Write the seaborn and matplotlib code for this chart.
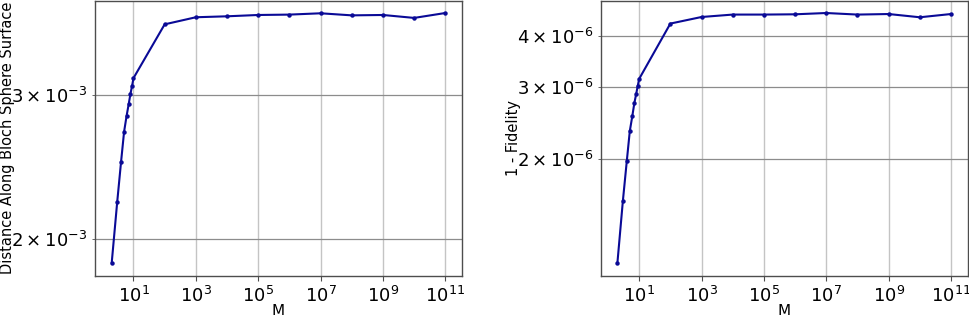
import matplotlib
matplotlib.use("Agg")
import matplotlib.pyplot as plt
import numpy as np
import pandas as pd
import seaborn as sns
from matplotlib.ticker import NullLocator

# M values: 2..10, then every decade up to 1e11
m_values = [2, 3, 4, 5, 6, 7, 8, 9, 10] + [10.0 ** k for k in range(2, 12)]

distance = [
    1.869e-3, 2.219e-3, 2.488e-3, 2.708e-3, 2.830e-3, 2.925e-3, 3.014e-3,
    3.080e-3, 3.150e-3, 3.666e-3, 3.740e-3, 3.750e-3, 3.764e-3, 3.768e-3,
    3.782e-3, 3.760e-3, 3.764e-3, 3.733e-3, 3.785e-3,
]

infidelity = [
    1.112e-6, 1.579e-6, 1.974e-6, 2.340e-6, 2.542e-6, 2.740e-6, 2.882e-6,
    3.020e-6, 3.141e-6, 4.288e-6, 4.450e-6, 4.511e-6, 4.511e-6, 4.518e-6,
    4.551e-6, 4.511e-6, 4.525e-6, 4.443e-6, 4.525e-6,
]

xticks = [10.0 ** k for k in range(1, 12, 2)]

df = pd.DataFrame({"M": m_values, "distance": distance, "infidelity": infidelity})

sns.set_style("ticks")
plt.rcParams["font.family"] = ["DejaVu Sans"]
plt.rcParams["text.color"] = "black"
plt.rcParams["axes.labelcolor"] = "black"
plt.rcParams["xtick.color"] = "black"
plt.rcParams["ytick.color"] = "black"

fig = plt.figure(figsize=(9.69, 3.15), dpi=100)
W, H = 969, 315
ax1 = fig.add_axes([95 / W, (H - 275.7) / H, 367 / W, 275.2 / H])
ax2 = fig.add_axes([600.7 / W, (H - 275.7) / H, 367 / W, 275.2 / H])

panels = [(ax1, "distance", "Distance Along Bloch Sphere Surface"),
          (ax2, "infidelity", "1 - Fidelity")]

for ax, col, ylabel in panels:
    sns.lineplot(data=df, x="M", y=col, ax=ax, color="#0a0a96", marker="o",
                 markersize=3.2, markeredgewidth=0, linewidth=1.5)
    ax.set_xscale("log")
    ax.set_yscale("log")
    ax.set_xticks(xticks)
    ax.xaxis.set_minor_locator(NullLocator())
    ax.grid(True, which="major", axis="x", color="#c4c4c4", linewidth=1.0)
    ax.grid(True, which="minor", axis="y", color="#8c8c8c", linewidth=0.9)
    ax.set_xlabel("M", fontsize=11, labelpad=-1)
    ax.set_ylabel(ylabel, fontsize=10.5)
    ax.yaxis.set_label_coords(-0.218, 0.5)
    ax.tick_params(axis="both", which="both", labelsize=13, color="0.3")
    for s in ax.spines.values():
        s.set_color("0.3")
        s.set_linewidth(1.0)

fig.savefig("out.png", dpi=100)
